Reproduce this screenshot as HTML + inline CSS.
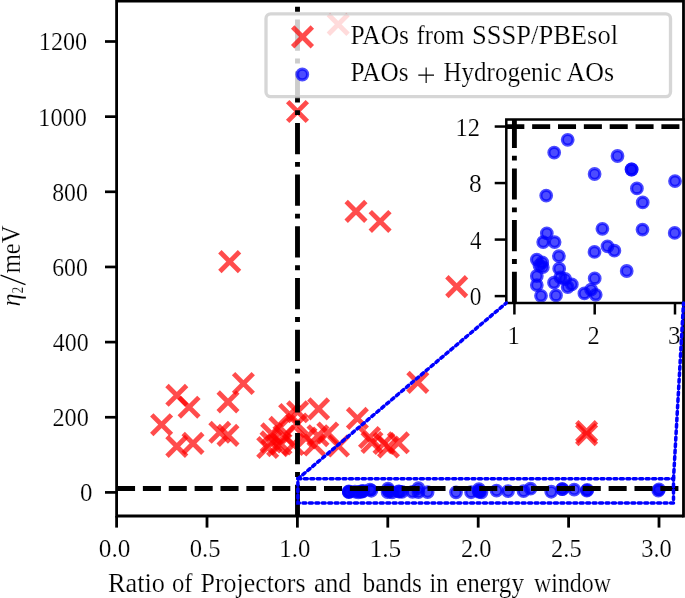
<!DOCTYPE html><html><head><meta charset="utf-8"><style>html,body{margin:0;padding:0;background:#fff;overflow:hidden}svg{display:block;will-change:transform}</style></head><body>
<svg width="685" height="598" viewBox="0 0 685 598">
<rect width="685" height="598" fill="#fff"/>
<g id="main">
<path d="M287.67 101.67L307.33 121.33M287.67 121.33L307.33 101.67" stroke="#ff0000" stroke-opacity="0.7" stroke-width="4.8" fill="none"/>
<path d="M219.87 251.77L239.53 271.43M219.87 271.43L239.53 251.77" stroke="#ff0000" stroke-opacity="0.7" stroke-width="4.8" fill="none"/>
<path d="M346.17 201.52L365.83 221.18M346.17 221.18L365.83 201.52" stroke="#ff0000" stroke-opacity="0.7" stroke-width="4.8" fill="none"/>
<path d="M370.27 211.62L389.93 231.28M370.27 231.28L389.93 211.62" stroke="#ff0000" stroke-opacity="0.7" stroke-width="4.8" fill="none"/>
<path d="M446.87 276.77L466.53 296.43M446.87 296.43L466.53 276.77" stroke="#ff0000" stroke-opacity="0.7" stroke-width="4.8" fill="none"/>
<path d="M407.97 372.57L427.63 392.23M407.97 392.23L427.63 372.57" stroke="#ff0000" stroke-opacity="0.7" stroke-width="4.8" fill="none"/>
<path d="M576.77 421.77L596.43 441.43M576.77 441.43L596.43 421.77" stroke="#ff0000" stroke-opacity="0.7" stroke-width="4.8" fill="none"/>
<path d="M576.77 424.77L596.43 444.43M576.77 444.43L596.43 424.77" stroke="#ff0000" stroke-opacity="0.7" stroke-width="4.8" fill="none"/>
<path d="M166.97 385.47L186.63 405.13M166.97 405.13L186.63 385.47" stroke="#ff0000" stroke-opacity="0.7" stroke-width="4.8" fill="none"/>
<path d="M179.27 397.37L198.93 417.03M179.27 417.03L198.93 397.37" stroke="#ff0000" stroke-opacity="0.7" stroke-width="4.8" fill="none"/>
<path d="M151.77 414.87L171.43 434.53M151.77 434.53L171.43 414.87" stroke="#ff0000" stroke-opacity="0.7" stroke-width="4.8" fill="none"/>
<path d="M166.97 436.57L186.63 456.23M166.97 456.23L186.63 436.57" stroke="#ff0000" stroke-opacity="0.7" stroke-width="4.8" fill="none"/>
<path d="M183.17 433.57L202.83 453.23M183.17 453.23L202.83 433.57" stroke="#ff0000" stroke-opacity="0.7" stroke-width="4.8" fill="none"/>
<path d="M233.57 373.67L253.23 393.33M233.57 393.33L253.23 373.67" stroke="#ff0000" stroke-opacity="0.7" stroke-width="4.8" fill="none"/>
<path d="M218.17 392.07L237.83 411.73M218.17 411.73L237.83 392.07" stroke="#ff0000" stroke-opacity="0.7" stroke-width="4.8" fill="none"/>
<path d="M209.97 422.47L229.63 442.13M209.97 442.13L229.63 422.47" stroke="#ff0000" stroke-opacity="0.7" stroke-width="4.8" fill="none"/>
<path d="M218.17 425.52L237.83 445.18M218.17 445.18L237.83 425.52" stroke="#ff0000" stroke-opacity="0.7" stroke-width="4.8" fill="none"/>
<path d="M308.77 399.07L328.43 418.73M308.77 418.73L328.43 399.07" stroke="#ff0000" stroke-opacity="0.7" stroke-width="4.8" fill="none"/>
<path d="M347.57 408.57L367.23 428.23M347.57 428.23L367.23 408.57" stroke="#ff0000" stroke-opacity="0.7" stroke-width="4.8" fill="none"/>
<path d="M257.87 437.67L277.53 457.33M257.87 457.33L277.53 437.67" stroke="#ff0000" stroke-opacity="0.7" stroke-width="4.8" fill="none"/>
<path d="M267.77 435.77L287.43 455.43M267.77 455.43L287.43 435.77" stroke="#ff0000" stroke-opacity="0.7" stroke-width="4.8" fill="none"/>
<path d="M261.87 424.07L281.53 443.73M261.87 443.73L281.53 424.07" stroke="#ff0000" stroke-opacity="0.7" stroke-width="4.8" fill="none"/>
<path d="M269.97 417.47L289.63 437.13M269.97 437.13L289.63 417.47" stroke="#ff0000" stroke-opacity="0.7" stroke-width="4.8" fill="none"/>
<path d="M279.77 404.67L299.43 424.33M279.77 424.33L299.43 404.67" stroke="#ff0000" stroke-opacity="0.7" stroke-width="4.8" fill="none"/>
<path d="M287.77 401.97L307.43 421.63M287.77 421.63L307.43 401.97" stroke="#ff0000" stroke-opacity="0.7" stroke-width="4.8" fill="none"/>
<path d="M261.17 432.07L280.83 451.73M261.17 451.73L280.83 432.07" stroke="#ff0000" stroke-opacity="0.7" stroke-width="4.8" fill="none"/>
<path d="M271.17 434.17L290.83 453.83M271.17 453.83L290.83 434.17" stroke="#ff0000" stroke-opacity="0.7" stroke-width="4.8" fill="none"/>
<path d="M283.47 434.67L303.13 454.33M283.47 454.33L303.13 434.67" stroke="#ff0000" stroke-opacity="0.7" stroke-width="4.8" fill="none"/>
<path d="M274.17 426.17L293.83 445.83M274.17 445.83L293.83 426.17" stroke="#ff0000" stroke-opacity="0.7" stroke-width="4.8" fill="none"/>
<path d="M287.17 414.17L306.83 433.83M287.17 433.83L306.83 414.17" stroke="#ff0000" stroke-opacity="0.7" stroke-width="4.8" fill="none"/>
<path d="M317.97 423.17L337.63 442.83M317.97 442.83L337.63 423.17" stroke="#ff0000" stroke-opacity="0.7" stroke-width="4.8" fill="none"/>
<path d="M308.17 425.87L327.83 445.53M308.17 445.53L327.83 425.87" stroke="#ff0000" stroke-opacity="0.7" stroke-width="4.8" fill="none"/>
<path d="M304.57 435.17L324.23 454.83M304.57 454.83L324.23 435.17" stroke="#ff0000" stroke-opacity="0.7" stroke-width="4.8" fill="none"/>
<path d="M328.67 436.17L348.33 455.83M328.67 455.83L348.33 436.17" stroke="#ff0000" stroke-opacity="0.7" stroke-width="4.8" fill="none"/>
<path d="M296.17 428.17L315.83 447.83M296.17 447.83L315.83 428.17" stroke="#ff0000" stroke-opacity="0.7" stroke-width="4.8" fill="none"/>
<path d="M359.67 427.67L379.33 447.33M359.67 447.33L379.33 427.67" stroke="#ff0000" stroke-opacity="0.7" stroke-width="4.8" fill="none"/>
<path d="M362.17 432.67L381.83 452.33M362.17 452.33L381.83 432.67" stroke="#ff0000" stroke-opacity="0.7" stroke-width="4.8" fill="none"/>
<path d="M374.17 433.67L393.83 453.33M374.17 453.33L393.83 433.67" stroke="#ff0000" stroke-opacity="0.7" stroke-width="4.8" fill="none"/>
<path d="M378.67 437.17L398.33 456.83M378.67 456.83L398.33 437.17" stroke="#ff0000" stroke-opacity="0.7" stroke-width="4.8" fill="none"/>
<path d="M388.57 432.97L408.23 452.63M388.57 452.63L408.23 432.97" stroke="#ff0000" stroke-opacity="0.7" stroke-width="4.8" fill="none"/>
<path d="M328.37 14.57L348.03 34.23M328.37 34.23L348.03 14.57" stroke="#ff0000" stroke-opacity="0.7" stroke-width="4.8" fill="none"/>
<circle cx="418.41" cy="488.24" r="5.3" fill="#0000ff" fill-opacity="0.7" stroke="#0000ff" stroke-opacity="0.7" stroke-width="3.2"/>
<circle cx="388.01" cy="488.58" r="5.3" fill="#0000ff" fill-opacity="0.7" stroke="#0000ff" stroke-opacity="0.7" stroke-width="3.2"/>
<circle cx="478.97" cy="489.15" r="5.3" fill="#0000ff" fill-opacity="0.7" stroke="#0000ff" stroke-opacity="0.7" stroke-width="3.2"/>
<circle cx="370.00" cy="489.73" r="5.3" fill="#0000ff" fill-opacity="0.7" stroke="#0000ff" stroke-opacity="0.7" stroke-width="3.2"/>
<circle cx="530.54" cy="488.67" r="5.3" fill="#0000ff" fill-opacity="0.7" stroke="#0000ff" stroke-opacity="0.7" stroke-width="3.2"/>
<circle cx="562.28" cy="489.03" r="5.3" fill="#0000ff" fill-opacity="0.7" stroke="#0000ff" stroke-opacity="0.7" stroke-width="3.2"/>
<circle cx="562.28" cy="489.03" r="5.3" fill="#0000ff" fill-opacity="0.7" stroke="#0000ff" stroke-opacity="0.7" stroke-width="3.2"/>
<circle cx="574.22" cy="489.54" r="5.3" fill="#0000ff" fill-opacity="0.7" stroke="#0000ff" stroke-opacity="0.7" stroke-width="3.2"/>
<circle cx="587.27" cy="489.91" r="5.3" fill="#0000ff" fill-opacity="0.7" stroke="#0000ff" stroke-opacity="0.7" stroke-width="3.2"/>
<circle cx="659.00" cy="489.34" r="5.3" fill="#0000ff" fill-opacity="0.7" stroke="#0000ff" stroke-opacity="0.7" stroke-width="3.2"/>
<circle cx="371.35" cy="490.73" r="5.3" fill="#0000ff" fill-opacity="0.7" stroke="#0000ff" stroke-opacity="0.7" stroke-width="3.2"/>
<circle cx="363.24" cy="490.96" r="5.3" fill="#0000ff" fill-opacity="0.7" stroke="#0000ff" stroke-opacity="0.7" stroke-width="3.2"/>
<circle cx="388.91" cy="490.96" r="5.3" fill="#0000ff" fill-opacity="0.7" stroke="#0000ff" stroke-opacity="0.7" stroke-width="3.2"/>
<circle cx="496.54" cy="490.61" r="5.3" fill="#0000ff" fill-opacity="0.7" stroke="#0000ff" stroke-opacity="0.7" stroke-width="3.2"/>
<circle cx="586.82" cy="490.63" r="5.3" fill="#0000ff" fill-opacity="0.7" stroke="#0000ff" stroke-opacity="0.7" stroke-width="3.2"/>
<circle cx="658.32" cy="490.72" r="5.3" fill="#0000ff" fill-opacity="0.7" stroke="#0000ff" stroke-opacity="0.7" stroke-width="3.2"/>
<circle cx="478.75" cy="491.22" r="5.3" fill="#0000ff" fill-opacity="0.7" stroke="#0000ff" stroke-opacity="0.7" stroke-width="3.2"/>
<circle cx="508.02" cy="491.08" r="5.3" fill="#0000ff" fill-opacity="0.7" stroke="#0000ff" stroke-opacity="0.7" stroke-width="3.2"/>
<circle cx="523.56" cy="491.19" r="5.3" fill="#0000ff" fill-opacity="0.7" stroke="#0000ff" stroke-opacity="0.7" stroke-width="3.2"/>
<circle cx="551.25" cy="491.73" r="5.3" fill="#0000ff" fill-opacity="0.7" stroke="#0000ff" stroke-opacity="0.7" stroke-width="3.2"/>
<circle cx="398.59" cy="491.34" r="5.3" fill="#0000ff" fill-opacity="0.7" stroke="#0000ff" stroke-opacity="0.7" stroke-width="3.2"/>
<circle cx="348.83" cy="491.43" r="5.3" fill="#0000ff" fill-opacity="0.7" stroke="#0000ff" stroke-opacity="0.7" stroke-width="3.2"/>
<circle cx="360.99" cy="491.50" r="5.3" fill="#0000ff" fill-opacity="0.7" stroke="#0000ff" stroke-opacity="0.7" stroke-width="3.2"/>
<circle cx="354.91" cy="491.59" r="5.3" fill="#0000ff" fill-opacity="0.7" stroke="#0000ff" stroke-opacity="0.7" stroke-width="3.2"/>
<circle cx="362.34" cy="491.63" r="5.3" fill="#0000ff" fill-opacity="0.7" stroke="#0000ff" stroke-opacity="0.7" stroke-width="3.2"/>
<circle cx="348.83" cy="491.87" r="5.3" fill="#0000ff" fill-opacity="0.7" stroke="#0000ff" stroke-opacity="0.7" stroke-width="3.2"/>
<circle cx="348.83" cy="492.11" r="5.3" fill="#0000ff" fill-opacity="0.7" stroke="#0000ff" stroke-opacity="0.7" stroke-width="3.2"/>
<circle cx="358.29" cy="492.39" r="5.3" fill="#0000ff" fill-opacity="0.7" stroke="#0000ff" stroke-opacity="0.7" stroke-width="3.2"/>
<circle cx="399.27" cy="491.67" r="5.3" fill="#0000ff" fill-opacity="0.7" stroke="#0000ff" stroke-opacity="0.7" stroke-width="3.2"/>
<circle cx="387.56" cy="492.04" r="5.3" fill="#0000ff" fill-opacity="0.7" stroke="#0000ff" stroke-opacity="0.7" stroke-width="3.2"/>
<circle cx="392.06" cy="492.38" r="5.3" fill="#0000ff" fill-opacity="0.7" stroke="#0000ff" stroke-opacity="0.7" stroke-width="3.2"/>
<circle cx="401.97" cy="491.90" r="5.3" fill="#0000ff" fill-opacity="0.7" stroke="#0000ff" stroke-opacity="0.7" stroke-width="3.2"/>
<circle cx="412.55" cy="491.95" r="5.3" fill="#0000ff" fill-opacity="0.7" stroke="#0000ff" stroke-opacity="0.7" stroke-width="3.2"/>
<circle cx="418.41" cy="492.16" r="5.3" fill="#0000ff" fill-opacity="0.7" stroke="#0000ff" stroke-opacity="0.7" stroke-width="3.2"/>
<circle cx="427.64" cy="492.09" r="5.3" fill="#0000ff" fill-opacity="0.7" stroke="#0000ff" stroke-opacity="0.7" stroke-width="3.2"/>
<circle cx="456.01" cy="492.33" r="5.3" fill="#0000ff" fill-opacity="0.7" stroke="#0000ff" stroke-opacity="0.7" stroke-width="3.2"/>
<circle cx="471.09" cy="492.23" r="5.3" fill="#0000ff" fill-opacity="0.7" stroke="#0000ff" stroke-opacity="0.7" stroke-width="3.2"/>
<circle cx="481.45" cy="492.37" r="5.3" fill="#0000ff" fill-opacity="0.7" stroke="#0000ff" stroke-opacity="0.7" stroke-width="3.2"/>
<circle cx="479.20" cy="491.93" r="5.3" fill="#0000ff" fill-opacity="0.7" stroke="#0000ff" stroke-opacity="0.7" stroke-width="3.2"/>
<line x1="117.0" y1="488.50" x2="683.5" y2="488.50" stroke="#000" stroke-width="4.877" stroke-dasharray="18.063 7.811"/>
<line x1="297.5" y1="516" x2="297.5" y2="0" stroke="#000" stroke-width="4.877" stroke-dasharray="31.213 7.803 4.877 7.803"/>
</g>
<g stroke="#000" stroke-width="2.8" fill="none">
<path d="M116.6 516H683.5M116.6 1.0H683.5"/>
<path d="M116.6 -1V517.4M683.5 -1V517.4"/>
<path d="M105 492.40H116.6" stroke-width="2.7"/>
<path d="M105 417.25H116.6" stroke-width="2.7"/>
<path d="M105 342.10H116.6" stroke-width="2.7"/>
<path d="M105 266.95H116.6" stroke-width="2.7"/>
<path d="M105 191.80H116.6" stroke-width="2.7"/>
<path d="M105 116.65H116.6" stroke-width="2.7"/>
<path d="M105 41.50H116.6" stroke-width="2.7"/>
<path d="M116.60 516V527.6" stroke-width="2.8"/>
<path d="M207.00 516V527.6" stroke-width="2.8"/>
<path d="M297.40 516V527.6" stroke-width="2.8"/>
<path d="M387.80 516V527.6" stroke-width="2.8"/>
<path d="M478.20 516V527.6" stroke-width="2.8"/>
<path d="M568.60 516V527.6" stroke-width="2.8"/>
<path d="M659.00 516V527.6" stroke-width="2.8"/>
</g>
<g font-family="Liberation Serif, serif" stroke="#fff" stroke-width="0.2">
<text x="38.80" y="50.40" font-size="25.8" textLength="48.34" lengthAdjust="spacingAndGlyphs">1200</text>
<text x="38.30" y="125.55" font-size="25.8" textLength="48.49" lengthAdjust="spacingAndGlyphs">1000</text>
<text x="52.20" y="200.70" font-size="25.8" textLength="35.64" lengthAdjust="spacingAndGlyphs">800</text>
<text x="52.20" y="275.85" font-size="25.8" textLength="35.67" lengthAdjust="spacingAndGlyphs">600</text>
<text x="52.80" y="351.00" font-size="25.8" textLength="35.85" lengthAdjust="spacingAndGlyphs">400</text>
<text x="52.40" y="426.15" font-size="25.8" textLength="36.42" lengthAdjust="spacingAndGlyphs">200</text>
<text x="80.10" y="501.30" font-size="25.8" textLength="12.47" lengthAdjust="spacingAndGlyphs">0</text>
<text x="98.80" y="556.90" font-size="25.8" textLength="31.56" lengthAdjust="spacingAndGlyphs">0.0</text>
<text x="189.70" y="556.90" font-size="25.8" textLength="30.84" lengthAdjust="spacingAndGlyphs">0.5</text>
<text x="279.30" y="556.90" font-size="25.8" textLength="31.00" lengthAdjust="spacingAndGlyphs">1.0</text>
<text x="369.50" y="556.90" font-size="25.8" textLength="31.83" lengthAdjust="spacingAndGlyphs">1.5</text>
<text x="460.90" y="556.90" font-size="25.8" textLength="30.47" lengthAdjust="spacingAndGlyphs">2.0</text>
<text x="551.10" y="556.90" font-size="25.8" textLength="30.55" lengthAdjust="spacingAndGlyphs">2.5</text>
<text x="641.30" y="556.90" font-size="25.8" textLength="30.54" lengthAdjust="spacingAndGlyphs">3.0</text>
<text x="108.00" y="592.40" font-size="26.4" textLength="57.05" lengthAdjust="spacingAndGlyphs">Ratio</text>
<text x="172.00" y="592.40" font-size="26.4" textLength="20.58" lengthAdjust="spacingAndGlyphs">of</text>
<text x="200.50" y="592.40" font-size="26.4" textLength="105.02" lengthAdjust="spacingAndGlyphs">Projectors</text>
<text x="314.00" y="592.40" font-size="26.4" textLength="37.03" lengthAdjust="spacingAndGlyphs">and</text>
<text x="362.50" y="592.40" font-size="26.4" textLength="59.53" lengthAdjust="spacingAndGlyphs">bands</text>
<text x="429.50" y="592.40" font-size="26.4" textLength="19.04" lengthAdjust="spacingAndGlyphs">in</text>
<text x="456.00" y="592.40" font-size="26.4" textLength="68.03" lengthAdjust="spacingAndGlyphs">energy</text>
<text x="534.00" y="592.40" font-size="26.4" textLength="77.01" lengthAdjust="spacingAndGlyphs">window</text>
</g>
<g font-family="Liberation Serif, serif" stroke="#fff" stroke-width="0.2">
<text transform="translate(20.00 273.30) rotate(-90)" font-size="26.4" textLength="47.80" lengthAdjust="spacingAndGlyphs">meV</text>
<text transform="translate(20.20 306.60) rotate(-90)" font-size="26.4" font-style="italic" textLength="13.00" lengthAdjust="spacingAndGlyphs">η</text>
<text transform="translate(22.60 293.60) rotate(-90)" font-size="17.0" textLength="6.80" lengthAdjust="spacingAndGlyphs">2</text>
</g>
<line x1="0.6" y1="275.1" x2="25.5" y2="284.6" stroke="#000" stroke-width="1.15"/>
<rect x="266.0" y="13.9" width="404.50" height="82.80" rx="4.7" ry="4.7" fill="#fff" fill-opacity="0.8" stroke="#cccccc" stroke-opacity="0.8" stroke-width="3.3"/>
<path d="M292.67 27.07L312.33 46.73M292.67 46.73L312.33 27.07" stroke="#ff0000" stroke-opacity="0.7" stroke-width="4.8" fill="none"/>
<circle cx="302.30" cy="74.50" r="5.3" fill="#0000ff" fill-opacity="0.7" stroke="#0000ff" stroke-opacity="0.7" stroke-width="3.2"/>
<g font-family="Liberation Serif, serif" stroke="#fff" stroke-width="0.2"><text x="350.50" y="44.00" font-size="26.7" textLength="58.51" lengthAdjust="spacingAndGlyphs">PAOs</text><text x="416.50" y="44.00" font-size="26.7" textLength="48.02" lengthAdjust="spacingAndGlyphs">from</text><text x="472.00" y="44.00" font-size="26.7" textLength="146.05" lengthAdjust="spacingAndGlyphs">SSSP/PBEsol</text><text x="350.50" y="81.40" font-size="26.7" textLength="58.00" lengthAdjust="spacingAndGlyphs">PAOs</text><text x="443.50" y="81.40" font-size="26.7" textLength="118.02" lengthAdjust="spacingAndGlyphs">Hydrogenic</text><text x="566.50" y="81.40" font-size="26.7" textLength="47.50" lengthAdjust="spacingAndGlyphs">AOs</text></g>
<path d="M418.3 75.15H434.0M426.15 67.4V82.9" stroke="#000" stroke-width="1.15" fill="none"/>
<rect x="506.3" y="119.5" width="177.20" height="183.50" fill="#fff"/>
<g>
<clipPath id="ic"><rect x="506.3" y="119.5" width="177.20" height="183.50"/></clipPath>
<g clip-path="url(#ic)">
<circle cx="567.70" cy="139.80" r="5.3" fill="#0000ff" fill-opacity="0.7" stroke="#0000ff" stroke-opacity="0.7" stroke-width="3.2"/>
<circle cx="554.20" cy="152.60" r="5.3" fill="#0000ff" fill-opacity="0.7" stroke="#0000ff" stroke-opacity="0.7" stroke-width="3.2"/>
<circle cx="594.60" cy="174.00" r="5.3" fill="#0000ff" fill-opacity="0.7" stroke="#0000ff" stroke-opacity="0.7" stroke-width="3.2"/>
<circle cx="546.20" cy="195.60" r="5.3" fill="#0000ff" fill-opacity="0.7" stroke="#0000ff" stroke-opacity="0.7" stroke-width="3.2"/>
<circle cx="617.50" cy="156.00" r="5.3" fill="#0000ff" fill-opacity="0.7" stroke="#0000ff" stroke-opacity="0.7" stroke-width="3.2"/>
<circle cx="631.60" cy="169.50" r="5.3" fill="#0000ff" fill-opacity="0.7" stroke="#0000ff" stroke-opacity="0.7" stroke-width="3.2"/>
<circle cx="631.60" cy="169.50" r="5.3" fill="#0000ff" fill-opacity="0.7" stroke="#0000ff" stroke-opacity="0.7" stroke-width="3.2"/>
<circle cx="636.90" cy="188.40" r="5.3" fill="#0000ff" fill-opacity="0.7" stroke="#0000ff" stroke-opacity="0.7" stroke-width="3.2"/>
<circle cx="642.70" cy="202.40" r="5.3" fill="#0000ff" fill-opacity="0.7" stroke="#0000ff" stroke-opacity="0.7" stroke-width="3.2"/>
<circle cx="675.00" cy="181.10" r="5.3" fill="#0000ff" fill-opacity="0.7" stroke="#0000ff" stroke-opacity="0.7" stroke-width="3.2"/>
<circle cx="546.80" cy="233.30" r="5.3" fill="#0000ff" fill-opacity="0.7" stroke="#0000ff" stroke-opacity="0.7" stroke-width="3.2"/>
<circle cx="543.20" cy="242.10" r="5.3" fill="#0000ff" fill-opacity="0.7" stroke="#0000ff" stroke-opacity="0.7" stroke-width="3.2"/>
<circle cx="554.60" cy="242.10" r="5.3" fill="#0000ff" fill-opacity="0.7" stroke="#0000ff" stroke-opacity="0.7" stroke-width="3.2"/>
<circle cx="602.40" cy="228.80" r="5.3" fill="#0000ff" fill-opacity="0.7" stroke="#0000ff" stroke-opacity="0.7" stroke-width="3.2"/>
<circle cx="642.50" cy="229.60" r="5.3" fill="#0000ff" fill-opacity="0.7" stroke="#0000ff" stroke-opacity="0.7" stroke-width="3.2"/>
<circle cx="674.70" cy="232.90" r="5.3" fill="#0000ff" fill-opacity="0.7" stroke="#0000ff" stroke-opacity="0.7" stroke-width="3.2"/>
<circle cx="594.50" cy="251.90" r="5.3" fill="#0000ff" fill-opacity="0.7" stroke="#0000ff" stroke-opacity="0.7" stroke-width="3.2"/>
<circle cx="607.50" cy="246.30" r="5.3" fill="#0000ff" fill-opacity="0.7" stroke="#0000ff" stroke-opacity="0.7" stroke-width="3.2"/>
<circle cx="614.40" cy="250.70" r="5.3" fill="#0000ff" fill-opacity="0.7" stroke="#0000ff" stroke-opacity="0.7" stroke-width="3.2"/>
<circle cx="626.70" cy="271.00" r="5.3" fill="#0000ff" fill-opacity="0.7" stroke="#0000ff" stroke-opacity="0.7" stroke-width="3.2"/>
<circle cx="558.90" cy="256.20" r="5.3" fill="#0000ff" fill-opacity="0.7" stroke="#0000ff" stroke-opacity="0.7" stroke-width="3.2"/>
<circle cx="536.80" cy="259.60" r="5.3" fill="#0000ff" fill-opacity="0.7" stroke="#0000ff" stroke-opacity="0.7" stroke-width="3.2"/>
<circle cx="542.20" cy="262.40" r="5.3" fill="#0000ff" fill-opacity="0.7" stroke="#0000ff" stroke-opacity="0.7" stroke-width="3.2"/>
<circle cx="539.50" cy="265.50" r="5.3" fill="#0000ff" fill-opacity="0.7" stroke="#0000ff" stroke-opacity="0.7" stroke-width="3.2"/>
<circle cx="542.80" cy="267.20" r="5.3" fill="#0000ff" fill-opacity="0.7" stroke="#0000ff" stroke-opacity="0.7" stroke-width="3.2"/>
<circle cx="536.80" cy="276.00" r="5.3" fill="#0000ff" fill-opacity="0.7" stroke="#0000ff" stroke-opacity="0.7" stroke-width="3.2"/>
<circle cx="536.80" cy="285.10" r="5.3" fill="#0000ff" fill-opacity="0.7" stroke="#0000ff" stroke-opacity="0.7" stroke-width="3.2"/>
<circle cx="541.00" cy="295.80" r="5.3" fill="#0000ff" fill-opacity="0.7" stroke="#0000ff" stroke-opacity="0.7" stroke-width="3.2"/>
<circle cx="559.20" cy="268.70" r="5.3" fill="#0000ff" fill-opacity="0.7" stroke="#0000ff" stroke-opacity="0.7" stroke-width="3.2"/>
<circle cx="554.00" cy="282.70" r="5.3" fill="#0000ff" fill-opacity="0.7" stroke="#0000ff" stroke-opacity="0.7" stroke-width="3.2"/>
<circle cx="556.00" cy="295.40" r="5.3" fill="#0000ff" fill-opacity="0.7" stroke="#0000ff" stroke-opacity="0.7" stroke-width="3.2"/>
<circle cx="560.40" cy="277.40" r="5.3" fill="#0000ff" fill-opacity="0.7" stroke="#0000ff" stroke-opacity="0.7" stroke-width="3.2"/>
<circle cx="565.10" cy="279.00" r="5.3" fill="#0000ff" fill-opacity="0.7" stroke="#0000ff" stroke-opacity="0.7" stroke-width="3.2"/>
<circle cx="567.70" cy="287.10" r="5.3" fill="#0000ff" fill-opacity="0.7" stroke="#0000ff" stroke-opacity="0.7" stroke-width="3.2"/>
<circle cx="571.80" cy="284.40" r="5.3" fill="#0000ff" fill-opacity="0.7" stroke="#0000ff" stroke-opacity="0.7" stroke-width="3.2"/>
<circle cx="584.40" cy="293.40" r="5.3" fill="#0000ff" fill-opacity="0.7" stroke="#0000ff" stroke-opacity="0.7" stroke-width="3.2"/>
<circle cx="591.10" cy="289.70" r="5.3" fill="#0000ff" fill-opacity="0.7" stroke="#0000ff" stroke-opacity="0.7" stroke-width="3.2"/>
<circle cx="595.70" cy="294.80" r="5.3" fill="#0000ff" fill-opacity="0.7" stroke="#0000ff" stroke-opacity="0.7" stroke-width="3.2"/>
<circle cx="594.70" cy="278.40" r="5.3" fill="#0000ff" fill-opacity="0.7" stroke="#0000ff" stroke-opacity="0.7" stroke-width="3.2"/>
<line x1="506.3" y1="126.6" x2="683.5" y2="126.6" stroke="#000" stroke-width="4.877" stroke-dasharray="18.045 7.803"/>
<line x1="514.4" y1="303.0" x2="514.4" y2="119.5" stroke="#000" stroke-width="4.877" stroke-dasharray="31.213 7.803 4.877 7.803"/>
</g>
<g stroke="#000" stroke-width="2.5" fill="none">
<rect x="506.3" y="119.5" width="177.20" height="183.50"/>
<path d="M494.7 296.10H506.3"/>
<path d="M494.7 239.58H506.3"/>
<path d="M494.7 183.06H506.3"/>
<path d="M494.7 126.54H506.3"/>
<path d="M514.40 303V314.5"/>
<path d="M594.70 303V314.5"/>
<path d="M675.00 303V314.5"/>
</g>
<g font-family="Liberation Serif, serif" stroke="#fff" stroke-width="0.2">
<text x="455.60" y="136.00" font-size="25.8" textLength="24.48" lengthAdjust="spacingAndGlyphs">12</text>
<text x="469.10" y="192.40" font-size="25.8" textLength="12.72" lengthAdjust="spacingAndGlyphs">8</text>
<text x="470.10" y="248.50" font-size="25.8" textLength="11.46" lengthAdjust="spacingAndGlyphs">4</text>
<text x="469.70" y="305.40" font-size="25.8" textLength="11.72" lengthAdjust="spacingAndGlyphs">0</text>
<text x="507.40" y="343.90" font-size="25.8" textLength="12.26" lengthAdjust="spacingAndGlyphs">1</text>
<text x="587.60" y="343.90" font-size="25.8" textLength="12.23" lengthAdjust="spacingAndGlyphs">2</text>
<text x="668.10" y="343.90" font-size="25.8" textLength="12.60" lengthAdjust="spacingAndGlyphs">3</text>
</g>
</g>
<rect x="297.9" y="478.8" width="375.60" height="24.30" stroke="#0000ff" stroke-width="3.5" stroke-linecap="round" stroke-dasharray="2.95 3.5" fill="none"/>
<line x1="297.9" y1="478.8" x2="506.3" y2="303.0" stroke="#0000ff" stroke-width="3.5" stroke-linecap="round" stroke-dasharray="2.95 3.5" fill="none"/>
<line x1="673.5" y1="478.8" x2="683.5" y2="303.0" stroke="#0000ff" stroke-width="3.5" stroke-linecap="round" stroke-dasharray="2.95 3.5" fill="none"/>
</svg></body></html>
